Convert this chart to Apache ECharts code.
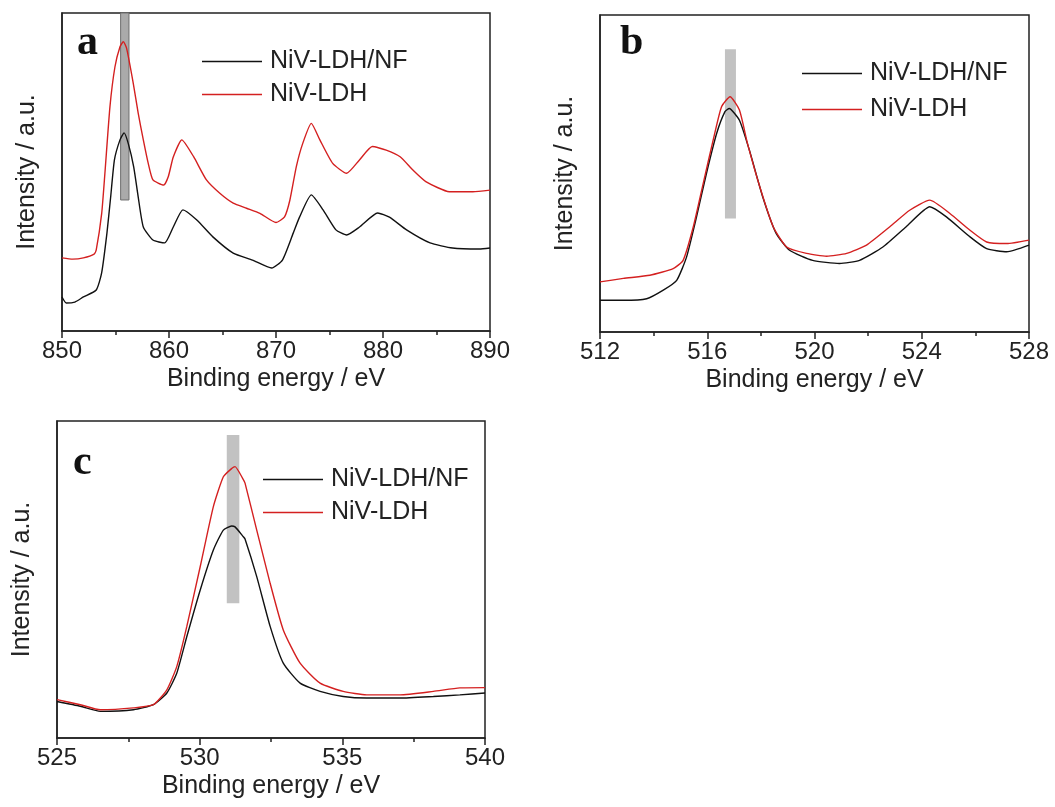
<!DOCTYPE html>
<html><head><meta charset="utf-8">
<script src="https://cdn.jsdelivr.net/npm/echarts@6/dist/echarts.min.js"></script>
<style>html,body{margin:0;padding:0;background:#fff}#c{width:1055px;height:807px}</style>
</head><body><div id="c"></div>
<script>
// ---- Panel a: Ni 2p ----
const aX_red = [850,851,852,853,853.2,853.71,854.01,854.48,854.95,855.42,855.73,856.04,856.66,857.12,857.6,858.06,858.5,859.5,859.93,860.4,861.2,862.3,863.5,864.75,866,867.25,868.5,870.0,870.8,871.3,871.9,872.5,873.3,874.1,875.3,876.6,877.8,879.0,880.3,881.6,882.8,884.0,886.2,888.4,890];
const aY_red = [23.0,22.6,23.0,24.2,25.5,37.0,49.6,70.5,83.1,89.4,91.0,88.9,77.9,68.5,60.1,52.7,47.5,45.9,48.5,54.7,60.1,54.8,47.5,43.3,40.2,38.6,37.0,34.1,35.9,41.2,51.7,59.0,65.3,60.1,52.7,49.6,53.8,58.0,56.9,54.8,50.6,47.0,43.8,43.8,44.3];
const aX_blk = [850,850.4,851.2,852,853.2,853.7,854.2,854.55,854.9,855.42,855.8,856.19,856.7,857.12,857.6,858.5,859.6,860.4,861.3,862.6,864.1,866,867.8,869.6,870.6,871.6,872.2,873.3,874.4,875.6,876.6,877.8,879.5,880.6,882.2,884.4,886.5,889,890];
const aY_blk = [10.7,8.8,9.1,10.7,12.9,18.2,30.8,42.2,53.8,60.1,62.3,59.0,51.6,42.2,32.7,28.6,27.7,32.7,38.1,34.9,29.6,24.5,22.3,19.8,22.3,30.7,35.8,42.8,38.1,31.8,30.2,32.7,37.1,35.8,31.8,27.7,26.1,25.8,26.1];
const aBand = [855.48, 856.26, 41.2, 100];

// ---- Panel b: V 2p ----
const bX_red = [512,512.87,513.86,514.73,515.1,515.48,515.85,516.22,516.53,516.85,517.2,517.5,517.96,518.46,518.96,519.7,520.45,521.2,521.94,522.81,523.55,524.3,525.05,525.8,526.42,527.17,528];
const bY_red = [15.8,16.9,17.9,20.0,22.6,33.2,46.9,60.5,71.0,74.2,70.0,59.5,45.8,33.2,26.8,24.8,23.9,24.8,27.4,33.2,38.4,41.6,37.4,32.1,28.4,27.9,29.0];
const bX_blk = [512,512.87,513.74,514.36,514.86,515.23,515.6,515.97,516.35,516.66,516.82,517.2,517.57,518.07,518.57,519.07,519.93,520.93,521.68,522.55,523.42,524.3,524.92,525.8,526.42,527.17,528];
const bY_blk = [10.0,10.0,10.5,13.2,16.3,23.7,36.3,50.0,62.6,69.5,70.5,66.8,57.4,42.6,31.1,25.8,22.6,21.6,22.6,26.8,33.2,39.5,36.3,30.0,26.3,25.3,27.4];
const bBand = [516.66, 517.07, 35.8, 89.2];

// ---- Panel c: O 1s ----
const cX = [525,525.82,526.52,527.68,528.38,528.85,529.2,529.55,530.02,530.48,530.83,531.12,531.24,531.53,531.59,532.0,532.47,532.93,533.52,534.22,535.03,535.85,537.02,538.19,539.12,540];
const cY_red = [12.1,10.5,8.9,9.5,10.5,15.2,22.6,35.2,54.1,73.0,82.4,85.0,85.6,81.5,80.4,65.6,48.8,34.1,23.6,17.3,14.7,13.6,13.6,14.7,15.8,15.9];
const cY_blk = [11.5,10.0,8.4,8.9,10.5,14.2,20.5,32.0,46.7,59.3,65.6,66.9,66.6,63.5,62.8,50.9,35.2,23.6,17.3,14.7,13.1,12.6,12.6,13.1,13.6,14.2];
const cBand = [530.95, 531.39, 42.5, 95.6];

const seriesNames = ['NiV-LDH/NF', 'NiV-LDH'];
const xRanges = [[850,890,10,2],[512,528,4,2],[525,540,5,2]];
const panelLabels = ['a','b','c'];

const FONT = 'Liberation Sans, Arial, sans-serif';
const RED = '#d42020', BLK = '#111';

const grids = [
  {left:62, top:13, width:428, height:318},
  {left:600, top:15, width:429, height:317},
  {left:57, top:421, width:428, height:317}
];
const legendPos = [
  {left:197, top:44, itemGap:8},
  {left:797, top:56, itemGap:11},
  {left:258, top:462, itemGap:8}
];
const labelPos = [[77,22],[620,22],[73,442]];
const bandStyles = [
  {color:'#aaaaaa', borderColor:'#6e6e6e', borderWidth:1},
  {color:'#c2c2c2', borderWidth:0},
  {color:'#c2c2c2', borderWidth:0}
];

function pairs(xs, ys){ return xs.map((x,i)=>[x, ys[i]]); }
const panels = [
  {blk: pairs(aX_blk,aY_blk), red: pairs(aX_red,aY_red), band: aBand},
  {blk: pairs(bX_blk,bY_blk), red: pairs(bX_red,bY_red), band: bBand},
  {blk: pairs(cX,cY_blk), red: pairs(cX,cY_red), band: cBand}
];

const option = {
  backgroundColor:'#fff',
  animation:false,
  grid: grids.map(g=>Object.assign({show:true, borderColor:'#222', borderWidth:1.5, backgroundColor:'transparent'}, g)),
  xAxis: xRanges.map((r,i)=>({
    type:'value', gridIndex:i, min:r[0], max:r[1], interval:r[2],
    name:'Binding energy / eV', nameLocation:'middle', nameGap:36,
    nameTextStyle:{fontSize:25, fontFamily:FONT, color:'#222'},
    axisLine:{show:true, lineStyle:{color:'#222', width:1.5}},
    axisTick:{show:true, inside:false, length:7, lineStyle:{color:'#222', width:1.5}},
    minorTick:{show:true, splitNumber:r[3], length:4, lineStyle:{color:'#222', width:1.5}},
    axisLabel:{fontSize:24, fontFamily:FONT, color:'#222', margin:8},
    splitLine:{show:false}
  })),
  yAxis: [0,1,2].map(i=>({
    type:'value', gridIndex:i, min:0, max:100,
    name:'Intensity / a.u.', nameLocation:'middle', nameGap:22,
    nameTextStyle:{fontSize:25, fontFamily:FONT, color:'#222'},
    axisLine:{show:true, lineStyle:{color:'#222', width:1.5}},
    axisTick:{show:false}, axisLabel:{show:false}, splitLine:{show:false}
  })),
  legend: legendPos.map(p=>({
    orient:'vertical', left:p.left, top:p.top, itemGap:p.itemGap,
    icon:'rect', itemWidth:60, itemHeight:1.6, data:seriesNames,
    textStyle:{fontSize:25, fontFamily:FONT, color:'#222', padding:[0,0,0,3]},
    selectedMode:false
  })),
  graphic: labelPos.map((p,i)=>({
    type:'text', left:p[0], top:p[1],
    style:{text:panelLabels[i], font:'bold 42px "Liberation Serif", "Times New Roman", serif', fill:'#111'}
  })),
  series: []
};

panels.forEach((p,i)=>{
  const b = p.band;
  option.series.push({
    type:'line', xAxisIndex:i, yAxisIndex:i, data:[], z:1, silent:true,
    markArea:{silent:true, itemStyle:bandStyles[i],
      data:[[{coord:[b[0], b[2]]},{coord:[b[1], b[3]]}]]}
  });
  option.series.push({
    name:seriesNames[0], type:'line', xAxisIndex:i, yAxisIndex:i, data:p.blk,
    symbol:'none', smooth:0.18, z:3, lineStyle:{color:BLK, width:1.4}, itemStyle:{color:BLK}
  });
  option.series.push({
    name:seriesNames[1], type:'line', xAxisIndex:i, yAxisIndex:i, data:p.red,
    symbol:'none', smooth:0.18, z:3, lineStyle:{color:RED, width:1.4}, itemStyle:{color:RED}
  });
});

const chart = echarts.init(document.getElementById('c'), null, {renderer:'canvas'});
chart.setOption(option);
</script>
</body></html>
